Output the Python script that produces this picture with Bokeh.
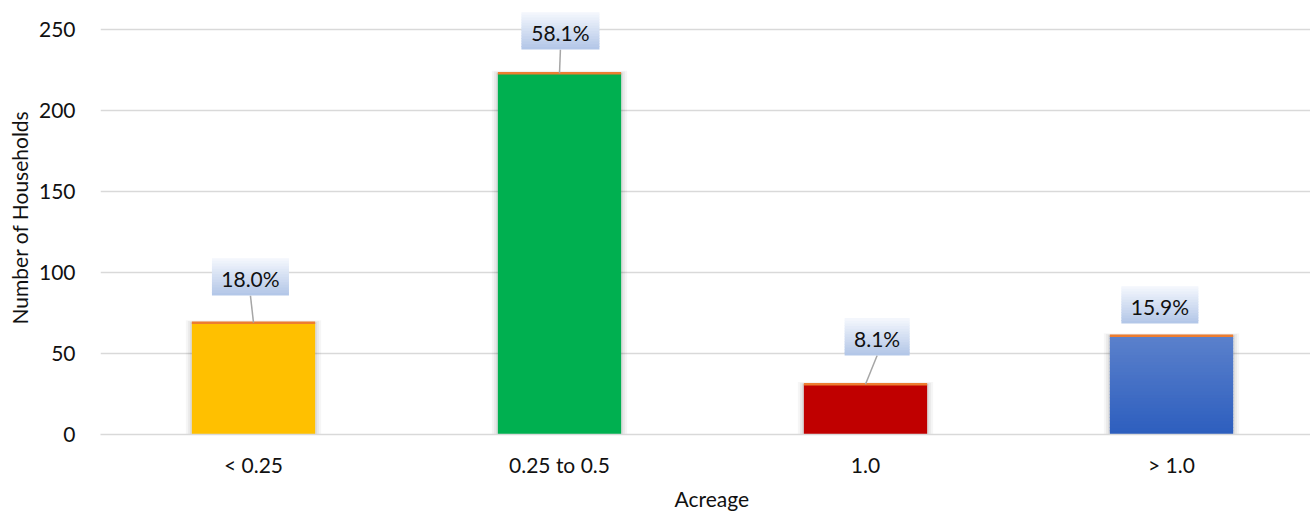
from bokeh.plotting import figure
from bokeh.models import Range1d, FixedTicker, Title
from bokeh.core.properties import value
from bokeh.embed import file_html
from bokeh.resources import INLINE

# ---- data -------------------------------------------------------------
categories = ["< 0.25", "0.25 to 0.5", "1.0", "> 1.0"]
households = [69, 223, 31, 61]
y_ticks = [0, 50, 100, 150, 200, 250]

# ---- styling / layout -------------------------------------------------
bar_colors = ["#FFC000", "#00B050", "#C00000", None]   # last bar uses a gradient
blue_top, blue_bottom = (0x5B, 0x81, 0xCC), (0x2D, 0x5E, 0xBE)
box_top, box_bottom = (0xF5, 0xF8, 0xFD), (0xB1, 0xC5, 0xE7)
cap_color = "#ED7D31"
grid_color = "#D9D9D9"
text_color = "#111111"
FONT = "Lato"
FONT_SIZE = "21px"

PX_X = 306.0          # pixels per category slot
PX_Y = 406.0 / 250.0  # pixels per household
bar_width = 0.403

# data-label placement (category offset, height) and box widths in px
label_dx = [-0.010, 0.003, 0.038, -0.038]
label_y = [97.3, 249.1, 60.3, 80.0]
label_box_w = [77, 78, 65, 77]
label_box_h = 37.5
show_leader = [True, True, True, False]

total = sum(households)
pct_text = [f"{100.0 * v / total:.1f}%" for v in households]
xs = [i + 0.5 for i in range(len(categories))]


def mix(c0, c1, t):
    return "#%02X%02X%02X" % tuple(round(a + (b - a) * t) for a, b in zip(c0, c1))


p = figure(width=1310, height=515, output_backend="svg", toolbar_location=None,
           x_range=Range1d(0, 1210.0 / PX_X), y_range=Range1d(0, 435.0 / PX_Y),
           min_border_left=100, min_border_right=0, min_border_top=0,
           min_border_bottom=80)
p.outline_line_color = None
p.background_fill_color = "white"
p.border_fill_color = "white"

# ---- axes -------------------------------------------------------------
p.yaxis.ticker = FixedTicker(ticks=y_ticks)
p.xaxis.ticker = FixedTicker(ticks=xs)
p.xaxis.major_label_overrides = {x: c for x, c in zip(xs, categories)}
p.xgrid.visible = False
p.ygrid.ticker = FixedTicker(ticks=y_ticks)
p.ygrid.grid_line_color = grid_color
p.ygrid.grid_line_width = 1.3

for ax in (p.xaxis, p.yaxis):
    ax.major_tick_line_color = None
    ax.minor_tick_line_color = None
    ax.major_tick_out = 0
    ax.major_tick_in = 0
    ax.minor_tick_out = 0
    ax.major_label_text_font = FONT
    ax.major_label_text_font_size = FONT_SIZE
    ax.major_label_text_color = text_color
    ax.axis_label_text_font = FONT
    ax.axis_label_text_font_size = FONT_SIZE
    ax.axis_label_text_font_style = "normal"
    ax.axis_label_text_color = text_color

p.yaxis.axis_line_color = None
p.yaxis.axis_label = "Number of Households"
p.yaxis.major_label_standoff = 25
p.yaxis.axis_label_standoff = 4
p.xaxis.axis_line_color = grid_color
p.xaxis.axis_line_width = 1.3
p.xaxis.major_label_standoff = 17

# x-axis title, centred under the full run of category slots (which runs
# a little past the right edge of the visible frame)
p.add_layout(Title(text="Acreage", align="left", offset=574, standoff=9,
                   text_font=FONT, text_font_size=FONT_SIZE,
                   text_font_style="normal", text_color=text_color), "below")

# ---- soft shadow around the bars --------------------------------------
for grow, alpha in ((6, 0.035), (4, 0.045), (2, 0.06)):
    gx = grow / PX_X
    p.quad(left=[x - bar_width / 2 - gx for x in xs],
           right=[x + bar_width / 2 + gx for x in xs],
           bottom=[0] * len(xs),
           top=[v + grow * 0.4 / PX_Y for v in households],
           fill_color="black", fill_alpha=alpha, line_color=None)

# ---- bars -------------------------------------------------------------
for x, v, c in zip(xs, households, bar_colors):
    if c is not None:
        p.vbar(x=[x], width=bar_width, bottom=0, top=[v], fill_color=c, line_color=None)
    else:
        n = 30
        overlap = 1.0 / PX_Y
        p.vbar(x=[x] * n, width=bar_width,
               bottom=[v * k / n for k in range(n)],
               top=[min(v, v * (k + 1) / n + overlap) for k in range(n)],
               fill_color=[mix(blue_bottom, blue_top, (k + 0.5) / n) for k in range(n)],
               line_color=None)

# thin orange cap on each bar
p.segment(x0=[x - bar_width / 2 for x in xs], y0=households,
          x1=[x + bar_width / 2 for x in xs], y1=households,
          line_color=cap_color, line_width=2.5)

# ---- leader lines -----------------------------------------------------
half_h = label_box_h / 2 / PX_Y
lx0, ly0, lx1, ly1 = [], [], [], []
for x, v, dx, ly, s in zip(xs, households, label_dx, label_y, show_leader):
    if s:
        lx0.append(x)
        ly0.append(v)
        lx1.append(x + dx)
        ly1.append(ly - half_h)
p.segment(x0=lx0, y0=ly0, x1=lx1, y1=ly1, line_color="#A6A6A6", line_width=1.5)

# ---- data-label boxes with vertical gradient --------------------------
nstrip = 14
for x, dx, ly, bw in zip(xs, label_dx, label_y, label_box_w):
    cx = x + dx
    half_w = bw / 2 / PX_X
    bot = ly - half_h
    top = ly + half_h
    step = 2 * half_h / nstrip
    p.quad(left=[cx - half_w] * nstrip, right=[cx + half_w] * nstrip,
           bottom=[bot + k * step for k in range(nstrip)],
           top=[min(top, bot + (k + 1) * step + 1.0 / PX_Y) for k in range(nstrip)],
           fill_color=[mix(box_bottom, box_top, (k + 0.5) / nstrip) for k in range(nstrip)],
           line_color=None)

p.text(x=[x + dx for x, dx in zip(xs, label_dx)], y=[ly - 1.0 for ly in label_y],
       text=pct_text, text_align="center", text_baseline="middle",
       text_font=value(FONT), text_font_size=FONT_SIZE, text_color=text_color)

open("out.html", "w").write(file_html(p, INLINE))
